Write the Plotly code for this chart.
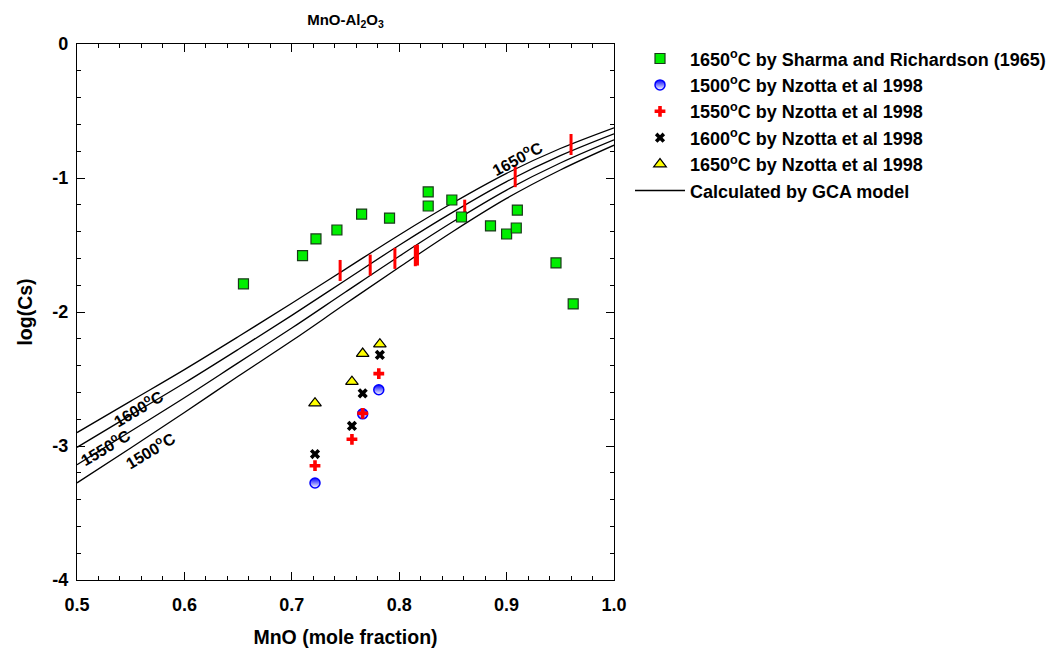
import plotly.graph_objects as go

# ---------------- data ----------------
# Sharma and Richardson (1965), 1650 C
sharma_x = [0.655, 0.710, 0.7225, 0.742, 0.765, 0.791, 0.827, 0.827, 0.849, 0.858, 0.885, 0.900, 0.909, 0.910, 0.946, 0.962]
sharma_y = [-1.79, -1.58, -1.455, -1.388, -1.269, -1.299, -1.104, -1.209, -1.164, -1.291, -1.358, -1.418, -1.373, -1.239, -1.634, -1.94]

# Nzotta et al 1998
nz1500_x = [0.7216, 0.766, 0.781]
nz1500_y = [-3.276, -2.76, -2.58]
nz1550_x = [0.7216, 0.756, 0.766, 0.781]
nz1550_y = [-3.147, -2.95, -2.756, -2.46]
nz1600_x = [0.7216, 0.756, 0.766, 0.782]
nz1600_y = [-3.06, -2.85, -2.607, -2.32]
nz1650_x = [0.7216, 0.756, 0.766, 0.782]
nz1650_y = [-2.68, -2.52, -2.31, -2.24]

# red bar markers (no legend entry)
bar_x = [0.745, 0.773, 0.796, 0.815, 0.817, 0.861, 0.908, 0.960]
bar_y = [-1.69, -1.65, -1.60, -1.58, -1.575, -1.24, -0.99, -0.75]

# GCA model curves
curve_x = [0.5, 0.55, 0.6, 0.65, 0.7, 0.75, 0.8, 0.85, 0.9, 0.95, 1.0]
curve_1650 = [-2.90, -2.665, -2.43, -2.185, -1.935, -1.68, -1.425, -1.185, -0.965, -0.78, -0.625]
curve_1600 = [-3.01, -2.77, -2.53, -2.28, -2.025, -1.763, -1.502, -1.255, -1.027, -0.833, -0.67]
curve_1550 = [-3.14, -2.89, -2.64, -2.38, -2.12, -1.851, -1.584, -1.327, -1.09, -0.888, -0.715]
curve_1500 = [-3.275, -3.015, -2.75, -2.48, -2.215, -1.939, -1.666, -1.399, -1.152, -0.94, -0.755]

curve_labels = ["1650<sup>o</sup>C", "1600<sup>o</sup>C", "1550<sup>o</sup>C", "1500<sup>o</sup>C"]
label_x = [0.9097, 0.5568, 0.526, 0.568]
label_y = [-0.851, -2.716, -3.007, -3.03]
label_angle = [-28, -31, -31, -31]

x_ticks = [0.5, 0.6, 0.7, 0.8, 0.9, 1.0]
y_ticks = [0, -1, -2, -3, -4]

FONT = "Liberation Sans, Arial, sans-serif"

fig = go.Figure()

curves = [curve_1650, curve_1600, curve_1550, curve_1500]
for i, cy in enumerate(curves):
    fig.add_trace(go.Scatter(
        x=curve_x, y=cy, mode="lines", line=dict(color="black", width=1.3, shape="spline"),
        name="Calculated by GCA model", showlegend=(i == 0), legendrank=6,
    ))

fig.add_trace(go.Scatter(
    x=bar_x, y=bar_y, mode="markers", showlegend=False,
    marker=dict(symbol="line-ns", size=15, line=dict(color="red", width=3)),
))

fig.add_trace(go.Scatter(
    x=sharma_x, y=sharma_y, mode="markers", name="1650<sup>o</sup>C by Sharma and Richardson (1965)",
    legendrank=1,
    marker=dict(symbol="square", size=10, color="#00ee00", line=dict(color="#1a3a1a", width=1.2)),
))
fig.add_trace(go.Scatter(
    x=nz1500_x, y=nz1500_y, mode="markers", name="1500<sup>o</sup>C by Nzotta et al 1998",
    legendrank=2,
    marker=dict(symbol="circle", size=10, color="blue", line=dict(color="blue", width=1.5),
                gradient=dict(type="vertical", color="white")),
))
fig.add_trace(go.Scatter(
    x=nz1550_x, y=nz1550_y, mode="markers", name="1550<sup>o</sup>C by Nzotta et al 1998",
    legendrank=3,
    marker=dict(symbol="cross", size=9, color="red", line=dict(width=0)),
))
fig.add_trace(go.Scatter(
    x=nz1600_x, y=nz1600_y, mode="markers", name="1600<sup>o</sup>C by Nzotta et al 1998",
    legendrank=4,
    marker=dict(symbol="x", size=9, color="black", line=dict(width=0)),
))
fig.add_trace(go.Scatter(
    x=nz1650_x, y=nz1650_y, mode="markers", name="1650<sup>o</sup>C by Nzotta et al 1998",
    legendrank=5,
    marker=dict(symbol="triangle-up", size=11, color="yellow", line=dict(color="black", width=1.2)),
))

for t, lx, ly, ang in zip(curve_labels, label_x, label_y, label_angle):
    fig.add_annotation(x=lx, y=ly, text=t, showarrow=False, textangle=ang,
                       font=dict(family=FONT, size=16, color="black", weight="bold"))

axis_common = dict(
    showline=True, linecolor="black", linewidth=1.2, mirror="ticks",
    ticks="inside", ticklen=8, tickwidth=1.2, tickcolor="black",
    showgrid=False, zeroline=False, automargin=False,
    tickfont=dict(family=FONT, size=18, color="black", weight="bold"),
)

fig.update_xaxes(
    range=[0.5, 1.0], tickvals=x_ticks, ticktext=[f"{v:.1f}" for v in x_ticks],
    minor=dict(dtick=0.02, ticks="inside", ticklen=4, tickcolor="black", tickwidth=1),
    title=dict(text="MnO (mole fraction)", font=dict(family=FONT, size=19.5, color="black", weight="bold"), standoff=16),
    ticklabelstandoff=8,
    **axis_common,
)
fig.update_yaxes(
    range=[-4, 0], tickvals=y_ticks, ticktext=[str(v) for v in y_ticks],
    minor=dict(dtick=0.2, ticks="inside", ticklen=4, tickcolor="black", tickwidth=1),
    title=dict(text="log(Cs)", font=dict(family=FONT, size=19.5, color="black", weight="bold"), standoff=14),
    ticklabelstandoff=4,
    **axis_common,
)

fig.update_layout(
    width=1056, height=654,
    margin=dict(l=77, r=442, t=44, b=74),
    paper_bgcolor="white", plot_bgcolor="white",
    title=dict(text="MnO-Al<sub>2</sub>O<sub>3</sub>", x=(77 + 537 / 2) / 1056, xanchor="center",
               y=1 - 20 / 654, yanchor="middle",
               font=dict(family=FONT, size=15, color="black", weight="bold")),
    legend=dict(xref="container", x=630 / 1056, y=1.0069, xanchor="left", yanchor="top",
                bgcolor="rgba(0,0,0,0)",
                font=dict(family=FONT, size=18, color="black", weight="bold"),
                tracegroupgap=0, itemwidth=50),
    showlegend=True,
)

fig.write_html("out.html", config={"displayModeBar": False},
               post_script="document.body.style.margin='0';")
